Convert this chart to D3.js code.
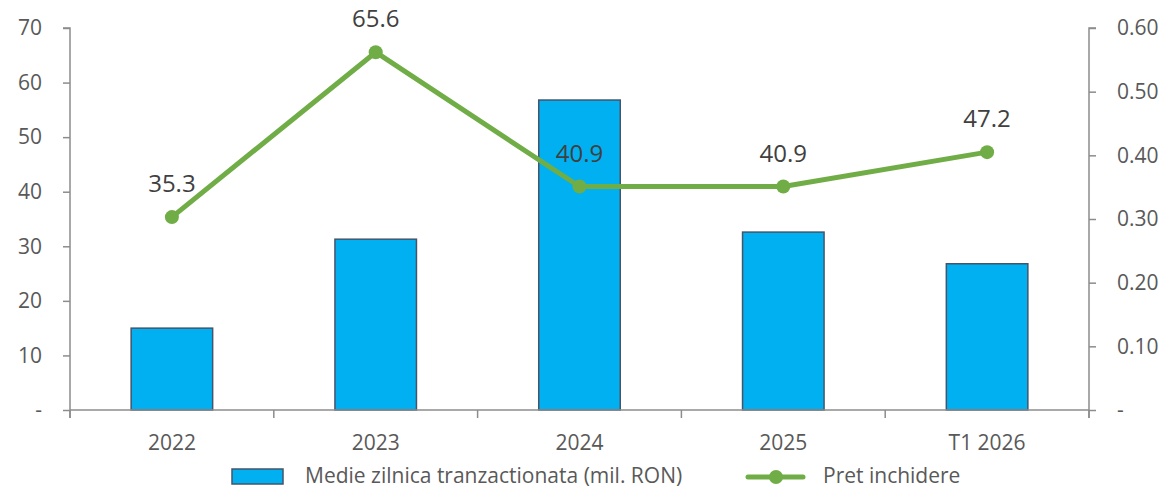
<!DOCTYPE html>
<html><head><meta charset="utf-8">
<script src="https://cdn.jsdelivr.net/npm/d3@7"></script>
<style>
html,body{margin:0;padding:0;background:#fff;}
svg text{font-family:"Open Sans",sans-serif;}
</style></head>
<body><svg id="chart" width="1165" height="490"></svg>
<script>
const categories = ["2022","2023","2024","2025","T1 2026"];
const medieValues = [15.0, 31.3, 56.8, 32.6, 26.8];
const pretValues = [0.303, 0.562, 0.351, 0.351, 0.405];
const pretLabels = ["35.3","65.6","40.9","40.9","47.2"];
const leftTicks = [0,10,20,30,40,50,60,70];
const rightTicks = [0,0.1,0.2,0.3,0.4,0.5,0.6];
const seriesNames = ["Medie zilnica tranzactionata (mil. RON)","Pret inchidere"];

const svg = d3.select("#chart");
const L = 70, R = 1089, T = 28, B = 410;
const axisColor = "#8c8c8c", textColor = "#595959";

const x = d3.scaleBand().domain(categories).range([L, R]).paddingInner(0).paddingOuter(0);
const yL = d3.scaleLinear().domain([0,70]).range([B, T]);
const yR = d3.scaleLinear().domain([0,0.6]).range([B, T]);

// bars
const bw = x.bandwidth()*0.4;
svg.append("g").selectAll("rect").data(categories).join("rect")
  .attr("x", d => x(d) + x.bandwidth()/2 - bw/2)
  .attr("y", (d,i) => yL(medieValues[i]))
  .attr("width", bw)
  .attr("height", (d,i) => B - yL(medieValues[i]))
  .attr("fill", "#00B0F0")
  .attr("stroke", "#44546A")
  .attr("stroke-width", 1.5);

// axes
const gl = svg.append("g").attr("transform", `translate(${L},0)`)
  .call(d3.axisLeft(yL).tickValues(leftTicks).tickSize(7).tickPadding(21)
    .tickFormat(d => d === 0 ? "-" : d3.format("d")(d)));
const gr = svg.append("g").attr("transform", `translate(${R},0)`)
  .call(d3.axisRight(yR).tickValues(rightTicks).tickSize(7).tickPadding(21)
    .tickFormat(d => d === 0 ? "-" : d3.format(".2f")(d)));
const boundaries = categories.map(c => x(c)).concat([R]);
const gx = svg.append("g").attr("transform", `translate(0,${B})`)
  .call(d3.axisBottom(x).tickSize(0).tickPadding(25));
gx.selectAll(".tick text").attr("dy", "0.71em");
svg.append("g").selectAll("line").data(boundaries).join("line")
  .attr("x1", d => d).attr("x2", d => d).attr("y1", B).attr("y2", B + 8)
  .attr("stroke", axisColor).attr("stroke-width", 1.5);

[gl, gr, gx].forEach(g => {
  g.selectAll(".domain").attr("stroke", axisColor).attr("stroke-width", 1.5);
  g.selectAll(".tick line").attr("stroke", axisColor).attr("stroke-width", 1.5);
  g.selectAll(".tick text").attr("fill", textColor).style("font-size", "21px");
});
gl.select(".domain").attr("d", `M-7,${T}H0V${B+8}`);
gr.select(".domain").attr("d", `M7,${T}H0V${B+8}`);
gx.select(".domain").attr("d", `M${L},0H${R}`);

// line
const line = d3.line().x((d,i) => x(categories[i]) + x.bandwidth()/2).y(d => yR(d));
svg.append("path").datum(pretValues).attr("d", line)
  .attr("fill", "none").attr("stroke", "#70AD47").attr("stroke-width", 5).attr("stroke-linejoin", "round");
svg.append("g").selectAll("circle").data(pretValues).join("circle")
  .attr("cx", (d,i) => x(categories[i]) + x.bandwidth()/2)
  .attr("cy", d => yR(d)).attr("r", 7).attr("fill", "#70AD47");
svg.append("g").selectAll("text").data(pretValues).join("text")
  .attr("x", (d,i) => x(categories[i]) + x.bandwidth()/2)
  .attr("y", d => yR(d) - 25)
  .attr("text-anchor", "middle").attr("fill", "#404040").style("font-size", "24px")
  .text((d,i) => pretLabels[i]);

// legend
const lg = svg.append("g");
lg.append("rect").attr("x", 232).attr("y", 469).attr("width", 51).attr("height", 15)
  .attr("fill", "#00B0F0").attr("stroke", "#44546A").attr("stroke-width", 1.5);
lg.append("text").attr("x", 305).attr("y", 483).attr("fill", textColor).style("font-size", "21px").text(seriesNames[0]);
lg.append("line").attr("x1", 748).attr("x2", 803).attr("y1", 477).attr("y2", 477)
  .attr("stroke", "#70AD47").attr("stroke-width", 5).attr("stroke-linecap", "round");
lg.append("circle").attr("cx", 776).attr("cy", 477).attr("r", 7).attr("fill", "#70AD47");
lg.append("text").attr("x", 823).attr("y", 483).attr("fill", textColor).style("font-size", "21px").text(seriesNames[1]);
</script></body></html>
